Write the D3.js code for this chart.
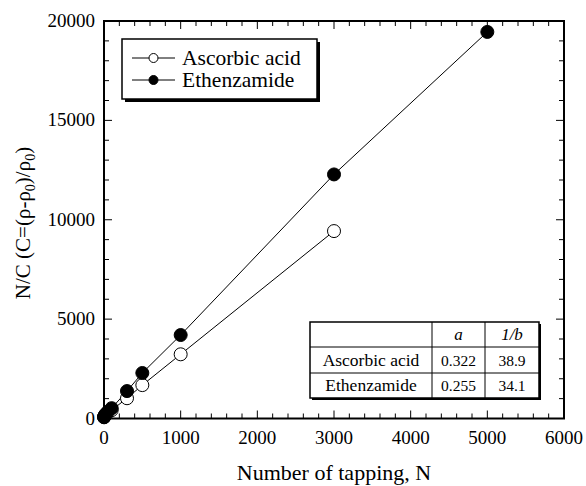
<!DOCTYPE html>
<html>
<head>
<meta charset="utf-8">
<script src="https://cdn.jsdelivr.net/npm/d3@7"></script>
</head>
<body style="margin:0">
<script>
// tapping data
const ascorbicN   = [1, 5, 10, 20, 50, 100, 300, 500, 1000, 3000];
const ascorbicNC  = [60, 90, 130, 180, 290, 420, 1020, 1680, 3230, 9430];
const ethenN      = [1, 5, 10, 20, 50, 100, 300, 500, 1000, 3000, 5000];
const ethenNC     = [70, 110, 160, 220, 340, 520, 1380, 2290, 4200, 12280, 19450];

const xTicks = [0, 1000, 2000, 3000, 4000, 5000, 6000];
const yTicks = [0, 5000, 10000, 15000, 20000];

const tableNames = ["Ascorbic acid", "Ethenzamide"];
const tableA = ["0.322", "0.255"];
const tableB = ["38.9", "34.1"];

const width = 586, height = 486;
const margin = { left: 104, right: 22, top: 21, bottom: 67.5 };

const svg = d3.select("body").append("svg")
    .attr("width", width)
    .attr("height", height)
    .style("font-family", "'Liberation Serif'");

// helper so every label gets the serif face
function txt(sel) {
    return sel.append("text").style("font-family", "'Liberation Serif'").attr("fill", "#000");
}

const x = d3.scaleLinear().domain([0, 6000]).range([margin.left, width - margin.right]);
const y = d3.scaleLinear().domain([0, 20000]).range([height - margin.bottom, margin.top]);

const x0 = x.range()[0], x1 = x.range()[1];
const y0 = y.range()[0], y1 = y.range()[1];

// ticks, all pointing inward on the four sides
const ticks = svg.append("g").attr("stroke", "#000").attr("stroke-width", 1);
d3.range(0, 6001, 200).forEach(v => {
    let len = v % 1000 === 0 ? 8 : 5;
    ticks.append("line").attr("x1", x(v)).attr("x2", x(v)).attr("y1", y0).attr("y2", y0 - len);
    ticks.append("line").attr("x1", x(v)).attr("x2", x(v)).attr("y1", y1).attr("y2", y1 + len);
});
d3.range(0, 20001, 1000).forEach(v => {
    let len = v % 5000 === 0 ? 8 : 5;
    ticks.append("line").attr("x1", x0).attr("x2", x0 + len).attr("y1", y(v)).attr("y2", y(v));
    ticks.append("line").attr("x1", x1).attr("x2", x1 - len).attr("y1", y(v)).attr("y2", y(v));
});

// frame
svg.append("rect")
    .attr("x", x0).attr("y", y1)
    .attr("width", x1 - x0).attr("height", y0 - y1)
    .attr("fill", "none").attr("stroke", "#000").attr("stroke-width", 2);

// tick labels
xTicks.forEach(d => {
    txt(svg).attr("x", x(d)).attr("y", y0 + 25)
        .attr("text-anchor", "middle").attr("font-size", 19).text(d);
});
yTicks.forEach(d => {
    txt(svg).attr("x", x0 - 9).attr("y", d => y(d) + 6)
        .attr("y", y(d) + 6)
        .attr("text-anchor", "end").attr("font-size", 19).text(d);
});

// axis titles
txt(svg).attr("x", (x0 + x1) / 2).attr("y", 480)
    .attr("text-anchor", "middle").attr("font-size", 22)
    .text("Number of tapping, N");

const yTitle = txt(svg)
    .attr("transform", "translate(30,223) rotate(-90)")
    .attr("text-anchor", "middle").attr("font-size", 21);
yTitle.append("tspan").text("N/C (C=(ρ-ρ");
yTitle.append("tspan").attr("font-size", 14).attr("dy", 5).text("0");
yTitle.append("tspan").attr("dy", -5).text(")/ρ");
yTitle.append("tspan").attr("font-size", 14).attr("dy", 5).text("0");
yTitle.append("tspan").attr("dy", -5).text(")");

// series
const series = [
    { name: "Ascorbic acid", n: ascorbicN, v: ascorbicNC, fill: "#fff" },
    { name: "Ethenzamide", n: ethenN, v: ethenNC, fill: "#000" }
];
const line = d3.line().x(d => x(d[0])).y(d => y(d[1]));

series.forEach(s => {
    let pts = s.n.map((n, i) => [n, s.v[i]]);
    svg.append("path").datum(pts)
        .attr("d", line)
        .attr("fill", "none").attr("stroke", "#000").attr("stroke-width", 1);
});
series.forEach(s => {
    let pts = s.n.map((n, i) => [n, s.v[i]]);
    svg.append("g").selectAll("circle").data(pts).enter().append("circle")
        .attr("cx", d => x(d[0])).attr("cy", d => y(d[1]))
        .attr("r", 6.5)
        .attr("fill", s.fill).attr("stroke", "#000").attr("stroke-width", 1);
});

// legend with drop shadow
const lg = { x: 122, y: 39, w: 195, h: 60 };
svg.append("rect").attr("x", lg.x + 3).attr("y", lg.y + 3).attr("width", lg.w).attr("height", lg.h).attr("fill", "#000");
svg.append("rect").attr("x", lg.x).attr("y", lg.y).attr("width", lg.w).attr("height", lg.h)
    .attr("fill", "#fff").attr("stroke", "#000").attr("stroke-width", 1.5);
series.forEach((s, i) => {
    let ly = 58 + i * 22;
    svg.append("line").attr("x1", 132).attr("x2", 175).attr("y1", ly).attr("y2", ly)
        .attr("stroke", "#000").attr("stroke-width", 1);
    svg.append("circle").attr("cx", 153.5).attr("cy", ly).attr("r", 4.5)
        .attr("fill", s.fill).attr("stroke", "#000").attr("stroke-width", 1);
    txt(svg).attr("x", 182).attr("y", ly + 7).attr("font-size", 21.5).text(s.name);
});

// parameter table with drop shadow
const colX = [310, 432, 485, 539];
const rowY = [322, 347, 373, 398];
svg.append("rect").attr("x", colX[0] + 2).attr("y", rowY[0] + 2)
    .attr("width", colX[3] - colX[0]).attr("height", rowY[3] - rowY[0]).attr("fill", "#000");
svg.append("rect").attr("x", colX[0]).attr("y", rowY[0])
    .attr("width", colX[3] - colX[0]).attr("height", rowY[3] - rowY[0])
    .attr("fill", "#fff").attr("stroke", "#000").attr("stroke-width", 1.5);
colX.slice(1, 3).forEach(cx => {
    svg.append("line").attr("x1", cx).attr("x2", cx).attr("y1", rowY[0]).attr("y2", rowY[3])
        .attr("stroke", "#000").attr("stroke-width", 1);
});
rowY.slice(1, 3).forEach(ry => {
    svg.append("line").attr("x1", colX[0]).attr("x2", colX[3]).attr("y1", ry).attr("y2", ry)
        .attr("stroke", "#000").attr("stroke-width", 1);
});
const mid = i => (colX[i] + colX[i + 1]) / 2;
const cellY = r => (rowY[r] + rowY[r + 1]) / 2 + 5.5;
txt(svg).attr("x", mid(1)).attr("y", cellY(0)).attr("text-anchor", "middle")
    .attr("font-size", 17).attr("font-style", "italic").text("a");
txt(svg).attr("x", mid(2)).attr("y", cellY(0)).attr("text-anchor", "middle")
    .attr("font-size", 17).attr("font-style", "italic").text("1/b");
tableNames.forEach((nm, i) => {
    txt(svg).attr("x", mid(0)).attr("y", cellY(i + 1)).attr("text-anchor", "middle")
        .attr("font-size", 17.5).text(nm);
    txt(svg).attr("x", mid(1)).attr("y", cellY(i + 1)).attr("text-anchor", "middle")
        .attr("font-size", 15.5).text(tableA[i]);
    txt(svg).attr("x", mid(2)).attr("y", cellY(i + 1)).attr("text-anchor", "middle")
        .attr("font-size", 15.5).text(tableB[i]);
});
</script>
</body>
</html>
